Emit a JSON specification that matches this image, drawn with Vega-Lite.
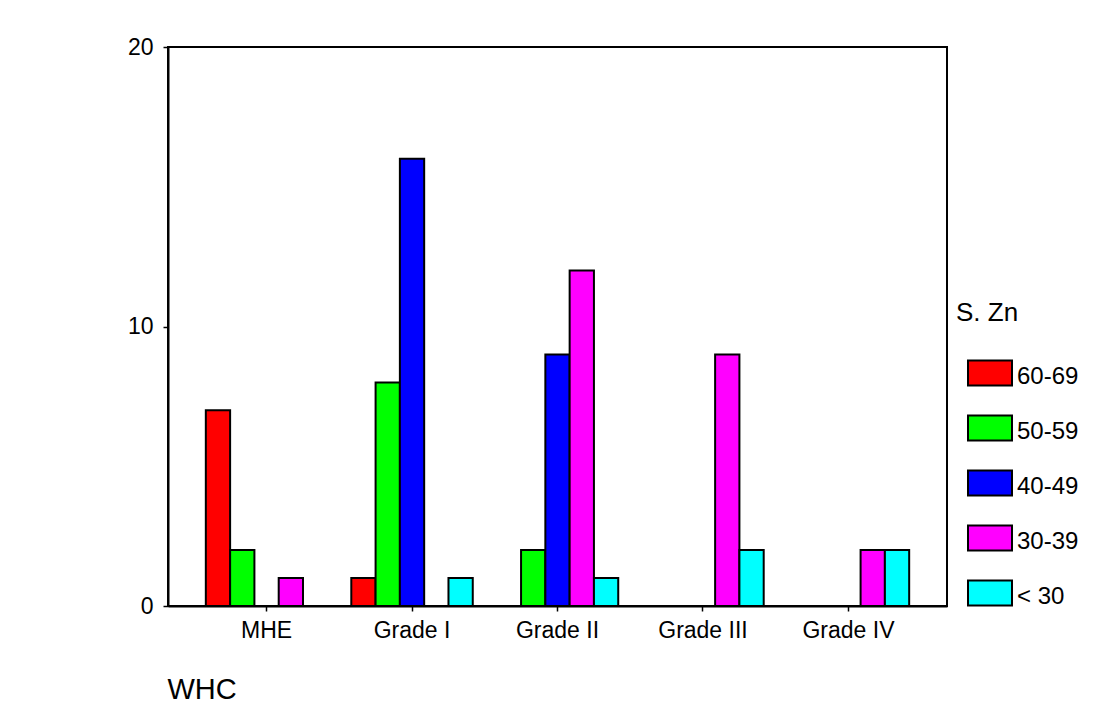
{
  "$schema": "https://vega.github.io/schema/vega-lite/v6.json",
  "width": 779,
  "height": 559,
  "autosize": {"type": "none"},
  "padding": {"left": 168, "top": 47, "right": 155, "bottom": 112},
  "background": "white",
  "config": {
    "view": {"stroke": "black", "strokeWidth": 2},
    "font": "Liberation Sans"
  },
  "data": {
    "values": [
      {"WHC": "MHE", "SZn": "60-69", "count": 7},
      {"WHC": "MHE", "SZn": "50-59", "count": 2},
      {"WHC": "MHE", "SZn": "30-39", "count": 1},
      {"WHC": "Grade I", "SZn": "60-69", "count": 1},
      {"WHC": "Grade I", "SZn": "50-59", "count": 8},
      {"WHC": "Grade I", "SZn": "40-49", "count": 16},
      {"WHC": "Grade I", "SZn": "< 30", "count": 1},
      {"WHC": "Grade II", "SZn": "50-59", "count": 2},
      {"WHC": "Grade II", "SZn": "40-49", "count": 9},
      {"WHC": "Grade II", "SZn": "30-39", "count": 12},
      {"WHC": "Grade II", "SZn": "< 30", "count": 1},
      {"WHC": "Grade III", "SZn": "30-39", "count": 9},
      {"WHC": "Grade III", "SZn": "< 30", "count": 2},
      {"WHC": "Grade IV", "SZn": "30-39", "count": 2},
      {"WHC": "Grade IV", "SZn": "< 30", "count": 2}
    ]
  },
  "mark": {"type": "bar", "stroke": "black", "strokeWidth": 2, "opacity": 1},
  "encoding": {
    "x": {
      "field": "WHC",
      "type": "nominal",
      "sort": ["MHE", "Grade I", "Grade II", "Grade III", "Grade IV"],
      "scale": {"domain": ["MHE", "Grade I", "Grade II", "Grade III", "Grade IV"], "paddingInner": 0.165, "paddingOuter": 0.26},
      "axis": {
        "labelAngle": 0,
        "labelFontSize": 23,
        "labelColor": "black",
        "labelPadding": 8,
        "tickSize": 5,
        "tickColor": "black",
        "tickWidth": 1.5,
        "domainColor": "black",
        "domainWidth": 2,
        "title": "WHC",
        "titleFontSize": 29,
        "titleFontWeight": "normal",
        "titleColor": "black",
        "titleAnchor": "start",
        "titleAlign": "left",
        "titleBaseline": "alphabetic",
        "titleX": -1,
        "titleY": 92
      }
    },
    "xOffset": {
      "field": "SZn",
      "type": "nominal",
      "scale": {"domain": ["60-69", "50-59", "40-49", "30-39", "< 30"], "paddingInner": 0, "paddingOuter": 0}
    },
    "y": {
      "field": "count",
      "type": "quantitative",
      "scale": {"domain": [0, 20], "nice": false},
      "axis": {
        "values": [0, 10, 20],
        "grid": false,
        "title": null,
        "labelFontSize": 23,
        "labelColor": "black",
        "labelPadding": 10,
        "tickSize": 5,
        "tickColor": "black",
        "tickWidth": 1.5,
        "domainColor": "black",
        "domainWidth": 2
      }
    },
    "color": {
      "field": "SZn",
      "type": "nominal",
      "scale": {
        "domain": ["60-69", "50-59", "40-49", "30-39", "< 30"],
        "range": ["#ff0000", "#00ff00", "#0000ff", "#ff00ff", "#00ffff"]
      },
      "legend": {
        "orient": "none",
        "legendX": 788,
        "legendY": 253,
        "title": "S. Zn",
        "titleFontSize": 26,
        "titleFontWeight": "normal",
        "titleColor": "black",
        "titlePadding": 24,
        "labelFontSize": 24,
        "labelColor": "black",
        "symbolType": "M-1,-0.568H1V0.568H-1Z",
        "symbolSize": 1936,
        "symbolStrokeColor": "black",
        "symbolStrokeWidth": 2,
        "symbolOpacity": 1,
        "symbolOffset": 11,
        "labelOffset": 4,
        "rowPadding": 15,
        "padding": 0,
        "encode": {"labels": {"update": {"dy": {"value": 4}}}}
      }
    }
  }
}
